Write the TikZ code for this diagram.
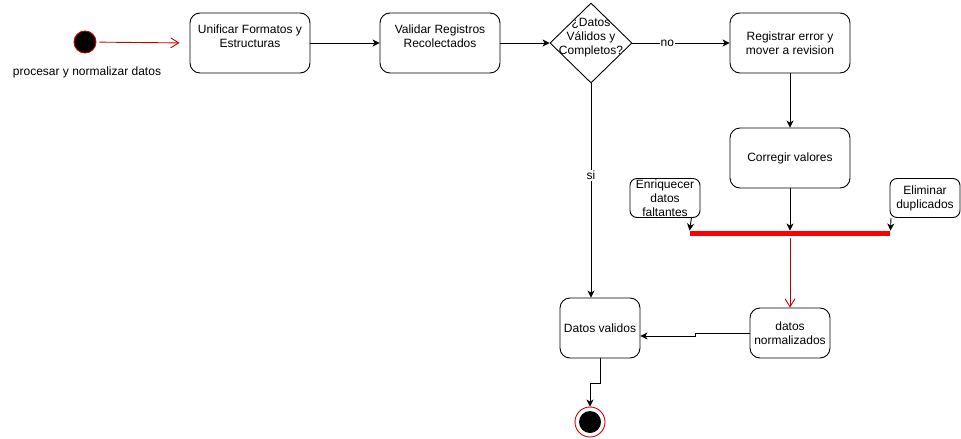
\documentclass[tikz,border=0pt]{standalone}
\usepackage{fontspec}
\setmainfont{Liberation Sans}
\usepackage{tikz}
\usetikzlibrary{shapes,arrows.meta,backgrounds}
\usetikzlibrary{positioning, shapes.geometric}
\definecolor{flowred}{HTML}{CC0000}
\tikzset{
  startnd/.style={ draw=flowred, circle, fill=black, minimum size=22pt, inner sep=0pt }
}
\tikzset{
  endnd/.style={ draw=flowred, circle, fill=white, minimum size=30pt, inner sep=0pt,
    path picture={\fill[black] (path picture bounding box.center) circle (11pt);} }
}
\tikzset{
  actbox/.style={ draw, rounded corners=10pt, minimum width=120pt, minimum height=60pt,
    align=center, inner sep=0pt, font=\fontsize{12}{14}\selectfont }
}
\tikzset{
  smallbox/.style={ actbox, minimum width=70pt, minimum height=39pt, rounded corners=7pt }
}
\tikzset{
  decide/.style={ draw, diamond, minimum width=82pt, minimum height=80pt, inner sep=0pt }
}
\tikzset{
  flow/.style={ -{Stealth[length=7pt,width=7pt,inset=2pt]} },
  redflow/.style={ draw=flowred, -{Straight Barb[length=8pt,width=10pt]} },
  edgelbl/.style={ fill=white, inner sep=1pt, font=\fontsize{12}{14}\selectfont }
}

\begin{document}
\begin{tikzpicture}[x=1pt, y=-1pt, line width=0.9pt]
      \useasboundingbox[fill=white] (0,0) rectangle (961,439);
      \node[startnd] (start) at (85, 42) {};
      \node[font=\fontsize{12}{14}\selectfont] (startlbl) at (87, 72) {procesar y normalizar datos};
      \node[actbox] (unif) at (250, 43) {Unificar Formatos y\\Estructuras\\\mbox{}};
      \node[actbox] (valid) at (440, 43) {Validar Registros\\Recolectados\\\mbox{}};
      \node[decide, label={[align=center, font=\fontsize{12}{14}\selectfont]center:{¿Datos\\Válidos y\\Completos?\\\mbox{}}}] (dec) at (591, 43) {};
      \node[actbox] (reg) at (790, 43) {Registrar error y\\mover a revision};
      \node[actbox] (corr) at (790, 158) {Corregir valores};
      \node[smallbox] (enriq) at (665, 198) {Enriquecer\\datos\\faltantes};
      \node[smallbox] (elim) at (925, 198) {Eliminar\\duplicados};
      \node[fill=red, minimum width=200pt, minimum height=5pt, inner sep=0pt] (bar) at (790, 233.5) {};
      \node[actbox, minimum width=80pt, minimum height=50pt] (norm) at (790, 333) {datos\\normalizados};
      \node[actbox, minimum width=80pt] (dval) at (600, 328) {Datos validos};
      \node[endnd] (fin) at (590, 422) {};
      % flujo principal
      \draw[redflow, shorten <=3pt, shorten >=10pt] (start) -- (unif.west);
      \draw[flow] (unif) -- (valid);
      \draw[flow] (valid) -- (dec.west);
      \draw[flow] (dec.east) -- node[edgelbl, pos=0.36] {no} (reg.west);
      \draw[flow] (dec.south) -- node[edgelbl, pos=0.43] {si} (dec.south |- dval.north);
      \draw[flow] (reg) -- (corr);
      % union en la barra
      \draw[flow] (corr) -- (bar.north -| corr);
      \draw[flow] ([xshift=-9pt]enriq.south east) -- (bar.north west);
      \draw[flow] ([xshift=-34pt]elim.south) -- (bar.north east);
      \draw[redflow, shorten <=2pt] (bar.south) -- (norm.north);
      \draw[flow] (norm.west) -- (695, 333) -- (695, 336) -- (dval.east |- 0, 336);
      \draw[flow] (dval.south) -- (600, 383) -- (590, 383) -- (fin.north);
    \end{tikzpicture}
\end{document}
